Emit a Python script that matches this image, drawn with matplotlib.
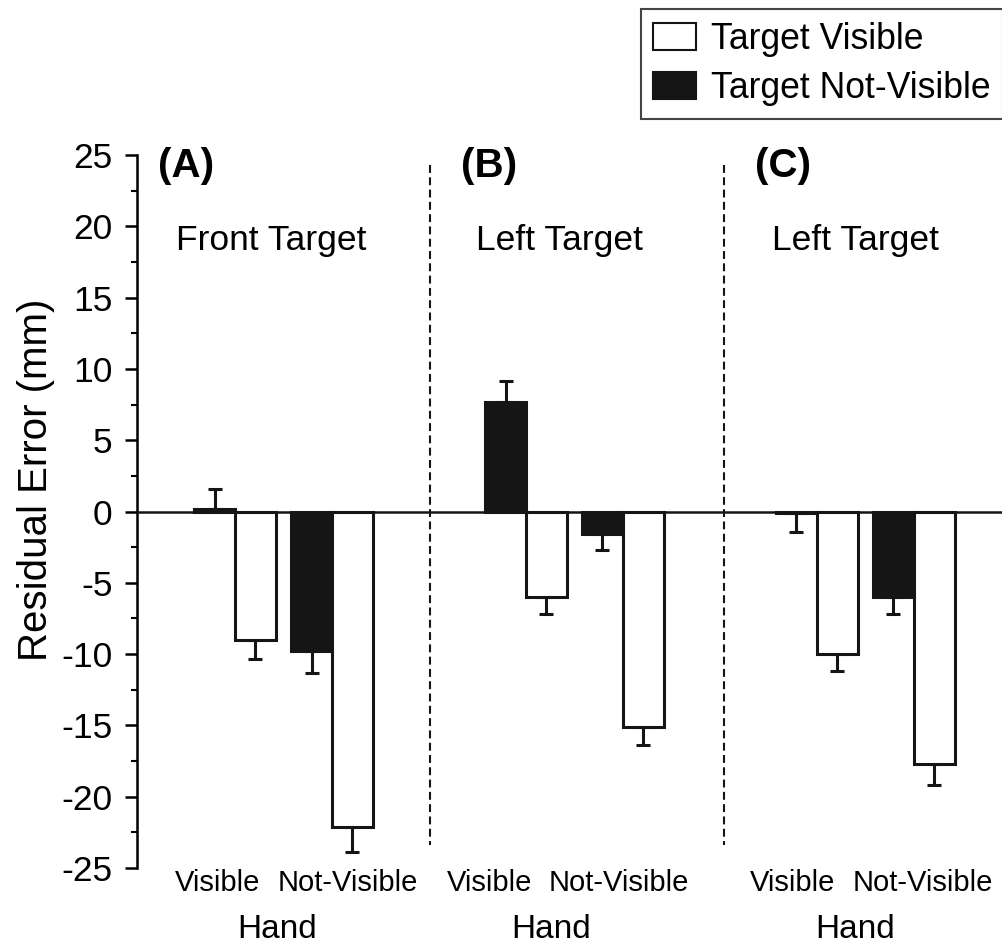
import matplotlib.pyplot as plt
from matplotlib.patches import Patch

plt.rcParams['font.family'] = ['Liberation Sans', 'DejaVu Sans']
plt.rcParams['axes.unicode_minus'] = False

panels = ['(A)', '(B)', '(C)']
panel_titles = ['Front Target', 'Left Target', 'Left Target']
hand_labels = ['Visible', 'Not-Visible']

# mean residual error (mm) per panel, hand visible / hand not-visible
target_visible = [[-9.0, -22.1], [-6.0, -15.1], [-10.0, -17.7]]
target_visible_err = [[1.35, 1.8], [1.2, 1.25], [1.2, 1.45]]
target_not_visible = [[0.15, -9.8], [7.7, -1.6], [-0.1, -6.0]]
target_not_visible_err = [[1.45, 1.55], [1.45, 1.1], [1.3, 1.2]]

fig = plt.figure(figsize=(10.03, 9.46), dpi=100)
ax = fig.add_axes([0.1366, 0.0825, 0.8634, 0.7535])

w = 0.42
lw_bar = 2.2
black = '#151515'

# text anchors in slot units (one slot per hand group)
tag_x = [-0.79, 2.33, 5.36]
title_x = [-0.61, 2.49, 5.54]
vis_x = [-0.175, 2.63, 5.75]
notvis_x = [1.165, 3.96, 7.09]
hand_x = [0.433, 3.26, 6.39]

for p in range(3):
    for h in range(2):
        c = p * 3 + h
        v_nv = target_not_visible[p][h]
        v_v = target_visible[p][h]
        ax.bar(c - w / 2, v_nv, w, color=black, edgecolor=black, linewidth=lw_bar, zorder=3)
        ax.bar(c + w / 2, v_v, w, color='white', edgecolor=black, linewidth=lw_bar, zorder=3)
        # one-sided error bars, pointing away from zero
        for x, v, e in [(c - w / 2, v_nv, target_not_visible_err[p][h]),
                        (c + w / 2, v_v, target_visible_err[p][h])]:
            if v >= 0:
                yerr = [[0], [e]]
            else:
                yerr = [[e], [0]]
            ax.errorbar(x, v, yerr=yerr, fmt='none', ecolor=black, elinewidth=2.2,
                        capsize=4.8, capthick=2.2, zorder=2)

    ax.text(tag_x[p], 23.45, panels[p], fontsize=29, fontweight='bold', va='baseline', ha='left')
    ax.text(title_x[p], 18.35, panel_titles[p], fontsize=25.5, va='baseline', ha='left')

    # hand condition labels below the bars
    ax.text(vis_x[p], -26.6, hand_labels[0], fontsize=21, ha='center', va='baseline')
    ax.text(notvis_x[p], -26.6, hand_labels[1], fontsize=21, ha='center', va='baseline')
    ax.text(hand_x[p], -29.9, 'Hand', fontsize=24, ha='center', va='baseline')

for xd in [2.01, 5.04]:
    ax.plot([xd, xd], [24.3, -23.4], color=black, lw=1.5,
            linestyle=(0, (3.8, 2.1)), zorder=1)

ax.axhline(0, color=black, lw=1.8, zorder=4)

ax.set_xlim(-1.01, 7.92)
ax.set_ylim(-25, 25)
ax.set_yticks(range(-25, 26, 5))
ax.set_yticks([v + 2.5 for v in range(-25, 25, 5)], minor=True)
ax.tick_params(axis='y', which='major', labelsize=25.5, width=1.8, length=8.5, pad=9)
ax.tick_params(axis='y', which='minor', width=1.5, length=4.5)
ax.set_xticks([])
for s in ['top', 'right', 'bottom']:
    ax.spines[s].set_visible(False)
ax.spines['left'].set_linewidth(1.8)
ax.set_ylabel('Residual Error (mm)', fontsize=29, va='center')
ax.yaxis.set_label_coords(-0.117, 0.544)

handles = [Patch(facecolor='white', edgecolor=black, linewidth=1.5, label='Target Visible'),
           Patch(facecolor=black, edgecolor=black, linewidth=1.5, label='Target Not-Visible')]
leg = fig.legend(handles=handles, loc='upper right', bbox_to_anchor=(1.0, 0.99),
                 fontsize=25.6, frameon=True, fancybox=False, edgecolor=black,
                 handlelength=1.2, handleheight=0.8, handletextpad=0.43,
                 borderpad=0.35, labelspacing=0.4, borderaxespad=0.0)
leg.get_frame().set_linewidth(1.5)

fig.savefig('out.png', dpi=100)
